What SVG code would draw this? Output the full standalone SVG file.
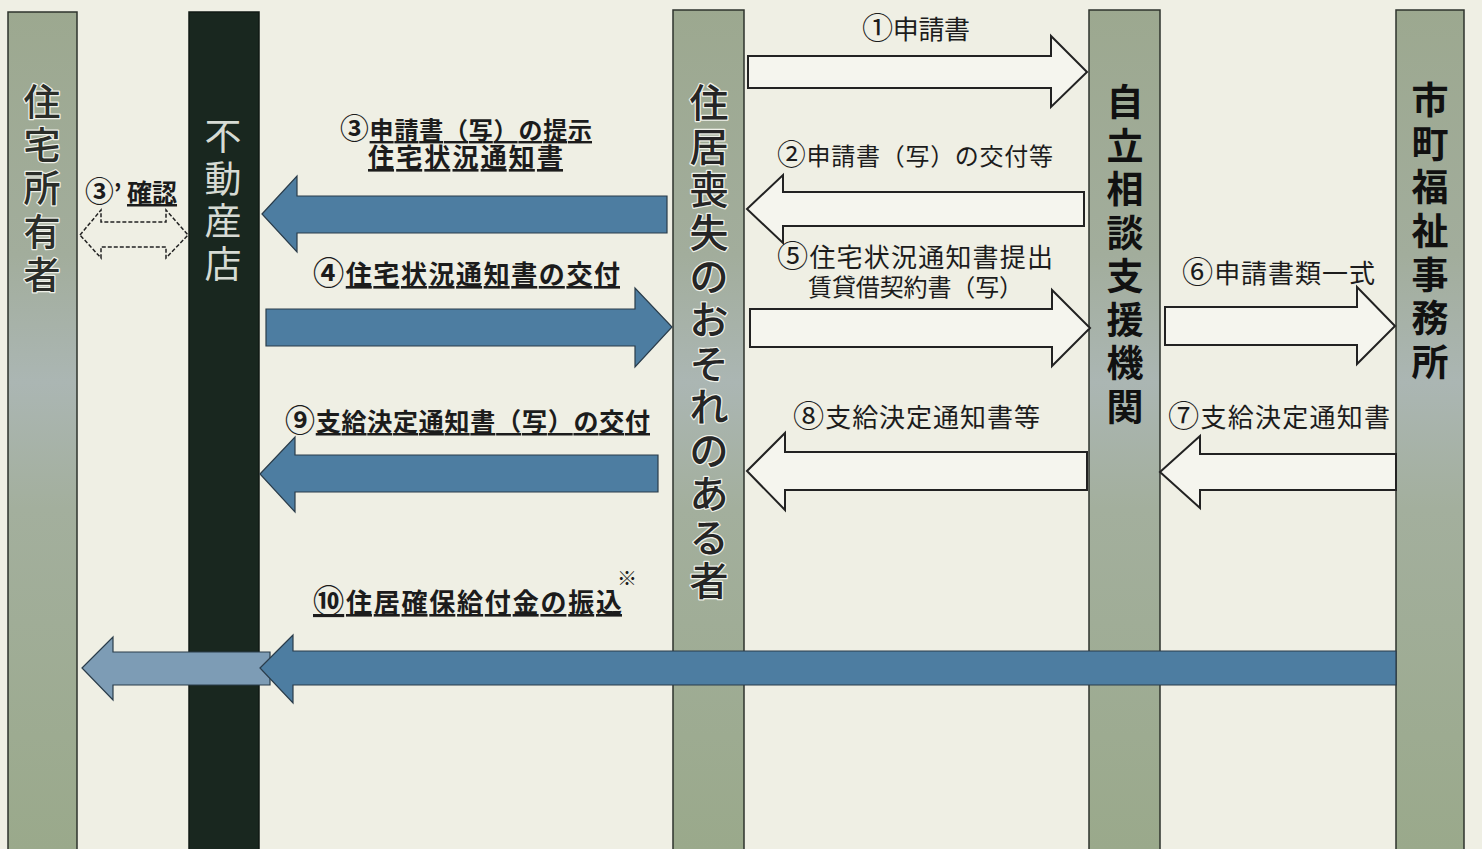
<svg xmlns="http://www.w3.org/2000/svg" width="1482" height="849" viewBox="0 0 1482 849">
<defs>
<linearGradient id="colg" gradientUnits="userSpaceOnUse" x1="0" y1="0" x2="0" y2="849">
<stop offset="0" stop-color="#9ca88f"/>
<stop offset="0.3" stop-color="#a2ad9c"/>
<stop offset="0.45" stop-color="#abb6b3"/>
<stop offset="0.6" stop-color="#a3af9d"/>
<stop offset="1" stop-color="#9aa98b"/>
</linearGradient>
<style>
.col{fill:url(#colg);stroke:#2e332c;stroke-width:1.5}
.dark{fill:#19271f;stroke:#101a14;stroke-width:1.5}
.vt{font-family:"Noto Sans CJK JP","Noto Sans CJK SC",sans-serif;text-anchor:middle;dominant-baseline:central}
.halo{paint-order:stroke;stroke:#eef0e8;stroke-width:2.5;stroke-linejoin:round}
.lbl{font-family:"Noto Sans CJK JP","Noto Sans CJK SC",sans-serif;fill:#1c1c1c}
.b{font-weight:700}
.u{text-decoration:underline}
.n{font-size:1.2em}
.wa{fill:#f5f5ee;stroke:#222;stroke-width:2;stroke-linejoin:miter}
.ba{fill:#4d7da1;stroke:#2a3c4a;stroke-width:1.2}
.la{fill:#7d9cb5;stroke:#2a3c4a;stroke-width:1.2}
.da{fill:none;stroke:#222;stroke-width:1.5;stroke-dasharray:4 2}
</style>
</defs>
<rect x="0" y="0" width="1482" height="849" fill="#efefe4"/>

<g id="node-owner">
<rect class="col" x="8" y="12" width="69" height="845"/>
<text class="vt halo" font-size="37" fill="#2a2d29" font-weight="500">
<tspan x="42" y="100">住</tspan><tspan x="42" y="143">宅</tspan><tspan x="42" y="186">所</tspan><tspan x="42" y="230">有</tspan><tspan x="42" y="273">者</tspan>
</text>
</g>

<g id="node-realestate">
<rect class="dark" x="189" y="12" width="70" height="845"/>
<text class="vt" font-size="37" fill="#d6dbd4">
<tspan x="223" y="134">不</tspan><tspan x="223" y="177">動</tspan><tspan x="223" y="219">産</tspan><tspan x="223" y="262">店</tspan>
</text>
</g>

<g id="node-applicant">
<rect class="col" x="673" y="10" width="71" height="847"/>
<text class="vt halo" font-size="39" fill="#252525" font-weight="500">
<tspan x="709" y="100">住</tspan><tspan x="709" y="143.5">居</tspan><tspan x="709" y="187">喪</tspan><tspan x="709" y="230">失</tspan><tspan x="709" y="274">の</tspan><tspan x="709" y="317">お</tspan><tspan x="709" y="361">そ</tspan><tspan x="709" y="404">れ</tspan><tspan x="709" y="448">の</tspan><tspan x="709" y="491">あ</tspan><tspan x="709" y="535">る</tspan><tspan x="709" y="578">者</tspan>
</text>
</g>

<g id="node-support">
<rect class="col" x="1089" y="10" width="71" height="847"/>
<text class="vt b" font-size="37" fill="#111">
<tspan x="1125" y="100">自</tspan><tspan x="1125" y="144">立</tspan><tspan x="1125" y="187">相</tspan><tspan x="1125" y="231">談</tspan><tspan x="1125" y="274">支</tspan><tspan x="1125" y="318">援</tspan><tspan x="1125" y="361">機</tspan><tspan x="1125" y="405">関</tspan>
</text>
</g>

<g id="node-welfare">
<rect class="col" x="1396" y="10" width="68" height="847"/>
<text class="vt b" font-size="37" fill="#111">
<tspan x="1430" y="98">市</tspan><tspan x="1430" y="142">町</tspan><tspan x="1430" y="185">福</tspan><tspan x="1430" y="229">祉</tspan><tspan x="1430" y="273">事</tspan><tspan x="1430" y="316">務</tspan><tspan x="1430" y="360">所</tspan>
</text>
</g>

<g id="connectors">
<polygon class="wa" points="748,56 1051,56 1051,36 1087,72 1051,107 1051,88 748,88"/>
<polygon class="wa" points="747,209 783,175 783,192 1084,192 1084,226 783,226 783,243"/>
<polygon class="wa" points="750,309 1052,309 1052,290 1090,328 1052,366 1052,347 750,347"/>
<polygon class="wa" points="1165,307 1357,307 1357,287 1395,326 1357,364 1357,345 1165,345"/>
<polygon class="wa" points="1160,472 1200,436 1200,454 1396,454 1396,490 1200,490 1200,508"/>
<polygon class="wa" points="747,471 785,433 785,452 1087,452 1087,490 785,490 785,510"/>
<polygon class="ba" points="262,214 297,176 297,196 667,196 667,233 297,233 297,252"/>
<polygon class="ba" points="266,309 635,309 635,288 672,327 635,367 635,346 266,346"/>
<polygon class="ba" points="260,474 295,437 295,455 658,455 658,492 295,492 295,512"/>
<polygon class="la" points="82,668 113,637 113,652 270,652 270,685 113,685 113,700"/>
<polygon class="ba" points="260,668 293,635 293,651 1396,651 1396,685 293,685 293,703"/>
<polygon class="da" points="80,235 101,210 101,222 166,222 166,210 188,235 166,258 166,247 101,247 101,258"/>
</g>

<g id="labels">
<text class="lbl" font-size="26" x="862" y="39" textLength="108" lengthAdjust="spacing"><tspan class="n">①</tspan>申請書</text>
<text class="lbl" font-size="24" x="777" y="165" textLength="276" lengthAdjust="spacing"><tspan class="n">②</tspan>申請書（写）の交付等</text>
<text class="lbl" font-size="26" x="777" y="267" textLength="276" lengthAdjust="spacing"><tspan class="n">⑤</tspan>住宅状況通知書提出</text>
<text class="lbl" font-size="24" x="808" y="296" textLength="215" lengthAdjust="spacing">賃貸借契約書（写）</text>
<text class="lbl" font-size="26" x="1182" y="283" textLength="193" lengthAdjust="spacing"><tspan class="n">⑥</tspan>申請書類一式</text>
<text class="lbl" font-size="26" x="1168" y="427" textLength="222" lengthAdjust="spacing"><tspan class="n">⑦</tspan>支給決定通知書</text>
<text class="lbl" font-size="26" x="793" y="427" textLength="247" lengthAdjust="spacing"><tspan class="n">⑧</tspan>支給決定通知書等</text>

<text class="lbl b" font-size="24" x="85" y="202"><tspan class="n">③</tspan>’</text>
<text class="lbl b u" font-size="25" x="127" y="202">確認</text>

<text class="lbl b" font-size="24" x="340" y="139" textLength="252" lengthAdjust="spacing"><tspan class="n">③</tspan><tspan class="u">申請書（写）の提示</tspan></text>
<text class="lbl b u" font-size="26" x="368" y="167" textLength="195" lengthAdjust="spacing">住宅状況通知書</text>
<text class="lbl b" font-size="26" x="313" y="284" textLength="307" lengthAdjust="spacing"><tspan class="n">④</tspan><tspan class="u">住宅状況通知書の交付</tspan></text>
<text class="lbl b" font-size="25" x="285" y="431" textLength="365" lengthAdjust="spacing"><tspan class="n">⑨</tspan><tspan class="u">支給決定通知書（写）の交付</tspan></text>
<text class="lbl b u" font-size="26" x="313" y="612" textLength="309" lengthAdjust="spacing"><tspan class="n">⑩</tspan>住居確保給付金の振込</text>
<text class="lbl" font-size="20" x="617" y="586">※</text>
</g>
</svg>
